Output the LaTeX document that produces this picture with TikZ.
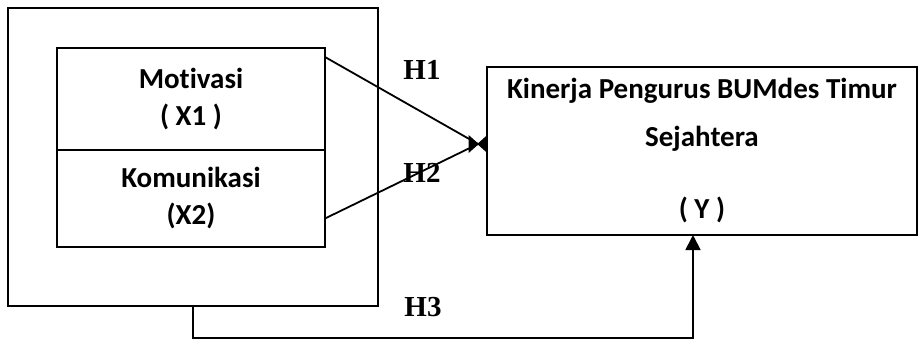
\documentclass[tikz,border=0pt]{standalone}
\usepackage{fontspec}
\setmainfont{Carlito}[Ligatures={NoCommon}]
\newfontfamily\hypfont{Liberation Serif}
\usetikzlibrary{positioning, arrows.meta, calc}

\begin{document}
\begin{tikzpicture}[x=0.5pt, y=-0.5pt, line width=0.9pt,
	varbox/.style={draw, inner sep=0pt, outer sep=0pt, align=center, font=\fontsize{14.5}{18.5}\selectfont\bfseries},
	hyplabel/.style={font=\hypfont\fontsize{14.5}{16}\selectfont\bfseries},
	tip/.style={-{Triangle[length=7.5pt, width=7.5pt]}}]
	\useasboundingbox (0,0) rectangle (918,339);
	\node[draw, inner sep=0pt, minimum width=185pt, minimum height=149pt] (outer) at (193,157) {};
	\node[varbox, minimum width=134pt, minimum height=51pt] (mot) at (191,99) {Motivasi\\( X1 )};
	\node[varbox, minimum width=134pt, minimum height=48.5pt, below=0pt of mot] (kom) {Komunikasi\\(X2)};
	\node[varbox, minimum width=215pt, minimum height=84pt, font=\fontsize{14.5}{24}\selectfont\bfseries] (kinerja) at (702,151) {Kinerja Pengurus BUMdes Timur\\Sejahtera\\[12pt]( Y )};
	% H1 and H2 meet in a bow-tie mark
	\coordinate (meet) at (478,144);
	\draw ([yshift=-4.5pt]mot.north east) -- (meet);
	\draw ([yshift=-10pt]kom.east) -- (meet);
	\filldraw[line width=0.5pt] (469,136) -- (487,152) -- (487,136) -- (469,152) -- cycle;
	\draw[tip] (outer.south) -- ++(0,31) -| ([xshift=-4.5pt]kinerja.south);
	\node[hyplabel] (h1) at (422,70) {H1};
	\node[hyplabel] (h2) at (422,173) {H2};
	\node[hyplabel] (h3) at (423,307) {H3};
\end{tikzpicture}
\end{document}
